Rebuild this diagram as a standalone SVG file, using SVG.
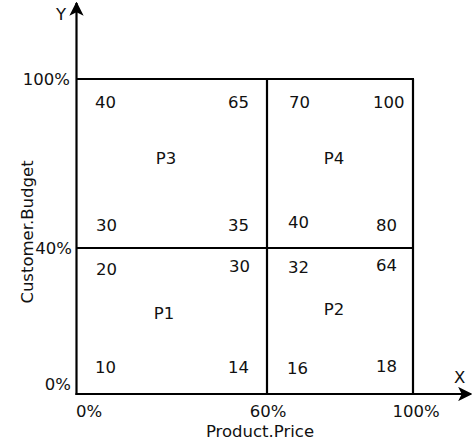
<svg xmlns="http://www.w3.org/2000/svg" width="474" height="443" viewBox="0 0 474 443">
<style>
text{font-family:"DejaVu Sans",sans-serif;font-size:16.5px;fill:#111}
.ln{stroke:#000;stroke-width:2.2;fill:none}
.m{text-anchor:middle}
.e{text-anchor:end}
</style>
<defs>
<marker id="ah" viewBox="0 0 10 10" refX="9" refY="5" markerWidth="6.5" markerHeight="6.5" markerUnits="strokeWidth" orient="auto"><path d="M0,0 L10,5 L0,10 L2.5,5 Z" fill="#000"/></marker>
</defs>
<rect width="474" height="443" fill="#fff"/>
<g id="connectors">
<line class="ln" x1="76.5" y1="395" x2="76.5" y2="3" marker-end="url(#ah)"/>
<line class="ln" x1="75.5" y1="394" x2="471" y2="394" marker-end="url(#ah)"/>
<line class="ln" x1="76" y1="79" x2="414" y2="79"/>
<line class="ln" x1="76" y1="248" x2="414" y2="248"/>
<line class="ln" x1="267" y1="79" x2="267" y2="394"/>
<line class="ln" x1="413" y1="79" x2="413" y2="394"/>
</g>
<g id="axes-labels">
<text x="56" y="20">Y</text>
<text x="454" y="383">X</text>
<text class="e" x="70" y="85">100%</text>
<text class="e" x="72" y="254">40%</text>
<text class="e" x="71" y="390">0%</text>
<text x="76" y="417">0%</text>
<text class="m" x="268" y="417">60%</text>
<text class="m" x="416" y="417">100%</text>
<text class="m" x="260" y="437">Product.Price</text>
<text class="m" transform="translate(33,232) rotate(-90)">Customer.Budget</text>
</g>
<g id="P3">
<text x="95" y="108">40</text>
<text x="228" y="108">65</text>
<text class="m" x="166" y="164">P3</text>
<text x="96" y="231">30</text>
<text x="228" y="231">35</text>
</g>
<g id="P4">
<text x="289" y="108">70</text>
<text x="373" y="108">100</text>
<text class="m" x="334" y="164">P4</text>
<text x="288" y="228">40</text>
<text x="376" y="231">80</text>
</g>
<g id="P1">
<text x="96" y="275">20</text>
<text x="229" y="272">30</text>
<text class="m" x="164" y="319">P1</text>
<text x="95" y="373">10</text>
<text x="228" y="373">14</text>
</g>
<g id="P2">
<text x="288" y="273">32</text>
<text x="376" y="271">64</text>
<text class="m" x="334" y="315">P2</text>
<text x="287" y="374">16</text>
<text x="376" y="372">18</text>
</g>
</svg>
